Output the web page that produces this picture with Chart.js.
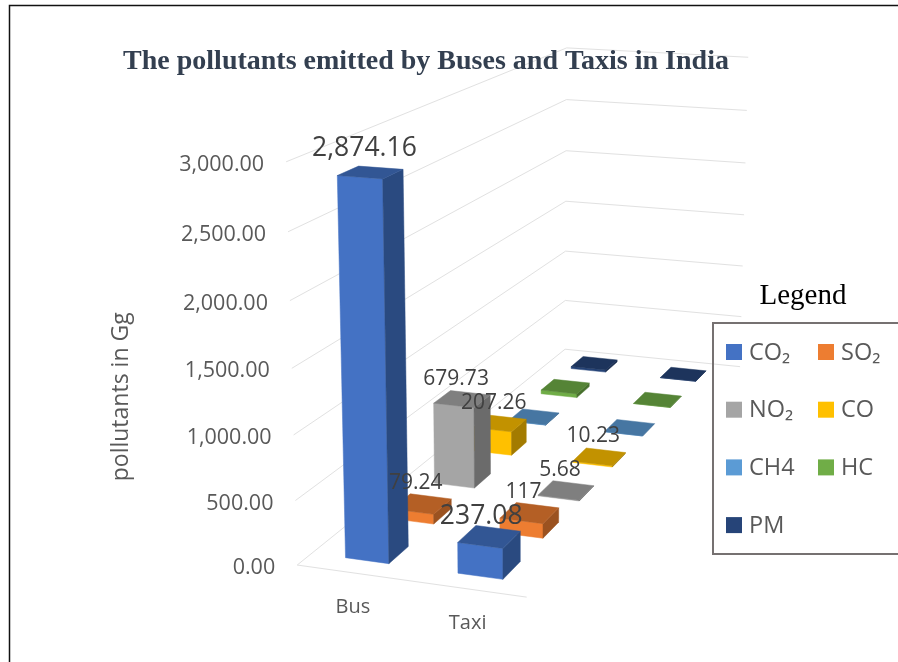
<!DOCTYPE html>
<html>
<head>
<meta charset="utf-8">
<title>The pollutants emitted by Buses and Taxis in India</title>
<script src="https://cdn.jsdelivr.net/npm/chart.js@4"></script>
<style>
    html, body { margin: 0; padding: 0; background: #fff; }
    canvas { display: block; }
</style>
</head>
<body>
<canvas id="pollutants-chart" width="898" height="662"></canvas>
<script>
// Chart data
const categories = ['Bus', 'Taxi'];
const pollutants = ['CO₂', 'SO₂', 'NO₂', 'CO', 'CH4', 'HC', 'PM'];
const co2Values = [2874.16, 237.08];
const so2Values = [79.24, 117];
const no2Values = [679.73, 5.68];
const coValues = [207.26, 10.23];
const ch4Values = [3, 1];
const hcValues = [35, 2];
const pmValues = [20, 1];
const seriesValues = [co2Values, so2Values, no2Values, coValues, ch4Values, hcValues, pmValues];
// only these series carry a value label in the original
const labelledSeries = 4;

// Colours per series: front, top, side
const frontColors = ['#4472C4', '#ED7D31', '#A5A5A5', '#FFC000', '#5B9BD5', '#70AD47', '#264478'];
const topColors = ['#325694', '#B45F25', '#7F7F7F', '#C29200', '#4676A2', '#558436', '#1D345C'];
const sideColors = ['#2A4A80', '#9B5220', '#6B6B6B', '#A37B00', '#3B6488', '#47702D', '#182C4E'];

// Box (u, v, h all 0-1) corners as they sit on the page, used to fit the projection
const anchors = [
    [0, 0, 0, 297, 565], [1, 0, 0, 527, 597], [1, 1, 0, 740, 367], [0, 1, 0, 565, 349],
    [0, 0, 1, 286, 162], [0, 1, 1, 567, 48], [1, 1, 1, 748, 57]
];

// Least squares fit of the 3x4 projection matrix
function fitProjection(points) {
    const n = 11;
    const ata = Array.from({ length: n }, () => new Array(n + 1).fill(0));
    const addRow = (row, rhs) => {
        for (let i = 0; i < n; i++) {
            for (let j = 0; j < n; j++) ata[i][j] += row[i] * row[j];
            ata[i][n] += row[i] * rhs;
        }
    };
    points.forEach(([u, v, h, x, y]) => {
        addRow([u, v, h, 1, 0, 0, 0, 0, -x * u, -x * v, -x * h], x);
        addRow([0, 0, 0, 0, u, v, h, 1, -y * u, -y * v, -y * h], y);
    });
    for (let c = 0; c < n; c++) {
        let p = c;
        for (let r = c + 1; r < n; r++) if (Math.abs(ata[r][c]) > Math.abs(ata[p][c])) p = r;
        [ata[c], ata[p]] = [ata[p], ata[c]];
        for (let r = 0; r < n; r++) {
            if (r === c) continue;
            const f = ata[r][c] / ata[c][c];
            for (let k = c; k <= n; k++) ata[r][k] -= f * ata[c][k];
        }
    }
    return ata.map((row, i) => row[n] / row[i]);
}

const m = fitProjection(anchors);

function project(u, v, h) {
    const w = m[8] * u + m[9] * v + m[10] * h + 1;
    return {
        x: (m[0] * u + m[1] * v + m[2] * h + m[3]) / w,
        y: (m[4] * u + m[5] * v + m[6] * h + m[7]) / w
    };
}

function fillFace(ctx, points, color) {
    ctx.beginPath();
    points.forEach((p, i) => (i ? ctx.lineTo(p.x, p.y) : ctx.moveTo(p.x, p.y)));
    ctx.closePath();
    ctx.fillStyle = color;
    ctx.strokeStyle = color;
    ctx.lineWidth = 0.5;
    ctx.fill();
    ctx.stroke();
}

// Decimal position (0-1) of a value along a scale; y runs upward already
const decimalOf = (scale, value) => scale.getDecimalForPixel(scale.getPixelForValue(value));

const barWidth = 0.195; // share of the floor width
const barDepth = 0.06;  // share of the floor depth
const fontFamily = '"Open Sans", sans-serif';

const chart3d = {
    id: 'chart3d',
    beforeDraw(chart) {
        const ctx = chart.ctx;
        const yScale = chart.scales.y;
        ctx.save();
        ctx.fillStyle = '#fff';
        ctx.fillRect(0, 0, chart.width, chart.height);
        // page frame round the figure
        ctx.strokeStyle = '#111';
        ctx.lineWidth = 1.5;
        ctx.beginPath();
        ctx.moveTo(chart.width, 5.5);
        ctx.lineTo(9.5, 5.5);
        ctx.lineTo(9.5, chart.height);
        ctx.stroke();

        // wall gridlines, here so the title stays on top of them
        ctx.strokeStyle = '#e1e1e1';
        ctx.lineWidth = 1;
        yScale.ticks.forEach((tick) => {
            const h = decimalOf(yScale, tick.value);
            const a = project(0, 0, h), d = project(0, 1, h), c = project(1, 1, h);
            ctx.beginPath();
            ctx.moveTo(a.x, a.y);
            ctx.lineTo(d.x, d.y);
            ctx.lineTo(c.x, c.y);
            ctx.stroke();
        });
        const fl = project(0, 0, 0), fr = project(1, 0, 0);
        ctx.beginPath();
        ctx.moveTo(fl.x, fl.y);
        ctx.lineTo(fr.x, fr.y);
        ctx.stroke();
        ctx.restore();
    },
    beforeDatasetsDraw(chart) {
        const ctx = chart.ctx;
        const { x: xScale, y: yScale, z: zScale } = chart.scales;
        ctx.save();
        // boxes, back series first
        for (let s = chart.data.datasets.length - 1; s >= 0; s--) {
            chart.data.datasets[s].data.forEach((value, c) => {
                const u = decimalOf(xScale, c);
                const v = decimalOf(zScale, s);
                const h = decimalOf(yScale, value);
                const u0 = u - barWidth / 2, u1 = u + barWidth / 2;
                const v0 = v - barDepth / 2, v1 = v + barDepth / 2;
                fillFace(ctx, [project(u0, v0, 0), project(u1, v0, 0), project(u1, v0, h), project(u0, v0, h)], frontColors[s]);
                fillFace(ctx, [project(u1, v0, 0), project(u1, v1, 0), project(u1, v1, h), project(u1, v0, h)], sideColors[s]);
                fillFace(ctx, [project(u0, v0, h), project(u1, v0, h), project(u1, v1, h), project(u0, v1, h)], topColors[s]);
            });
        }
        ctx.restore();
        return false;
    },
    afterDraw(chart) {
        const ctx = chart.ctx;
        const { x: xScale, y: yScale, z: zScale } = chart.scales;
        ctx.save();
        ctx.textBaseline = 'middle';

        // value ticks follow the slanted front edge
        ctx.font = '21.5px ' + fontFamily;
        ctx.fillStyle = '#595959';
        ctx.textAlign = 'right';
        yScale.ticks.forEach((tick) => {
            const p = project(0, 0, decimalOf(yScale, tick.value));
            ctx.fillText(tick.label, p.x - 22, p.y + 3);
        });

        // category labels under the front edge
        ctx.font = '20px ' + fontFamily;
        ctx.textAlign = 'center';
        xScale.getLabels().forEach((label, c) => {
            const p = project(decimalOf(xScale, c), 0, 0);
            ctx.fillText(label, p.x, p.y + 34);
        });

        // value labels
        ctx.fillStyle = '#404040';
        for (let s = 0; s < labelledSeries; s++) {
            chart.data.datasets[s].data.forEach((value, c) => {
                const p = project(decimalOf(xScale, c), decimalOf(zScale, s), decimalOf(yScale, value));
                ctx.font = (s === 0 ? '26.5px ' : '21px ') + fontFamily;
                const dx = s === 0 && c === 1 ? -8 : -6;
                const dy = s === 0 && c === 0 ? -24 : -20.5;
                ctx.fillText(value.toLocaleString('en-US'), p.x + dx, p.y + dy);
            });
        }

        // legend box
        ctx.fillStyle = '#000';
        ctx.font = '29px "Liberation Serif", serif';
        ctx.fillText('Legend', 803, 296);
        ctx.strokeStyle = '#767171';
        ctx.lineWidth = 2;
        ctx.strokeRect(713, 323, 186, 231);
        ctx.textAlign = 'left';
        ctx.font = '23.5px ' + fontFamily;
        chart.data.datasets.forEach((ds, i) => {
            const col = i % 2, row = Math.floor(i / 2);
            const x = 726 + col * 92, y = 352 + row * 57.7;
            ctx.fillStyle = ds.backgroundColor;
            ctx.fillRect(x, y - 8, 16, 16);
            ctx.fillStyle = '#595959';
            ctx.fillText(ds.label, x + 23, y + 1);
        });
        ctx.restore();
    }
};

new Chart(document.getElementById('pollutants-chart'), {
    type: 'bar',
    data: {
        labels: categories,
        datasets: pollutants.map((name, i) => ({
            label: name,
            data: seriesValues[i],
            backgroundColor: frontColors[i],
            xAxisID: 'x',
            yAxisID: 'y',
            grouped: false
        }))
    },
    plugins: [chart3d],
    options: {
        responsive: false,
        animation: false,
        events: [],
        layout: { padding: { left: 104, right: 150, top: 0, bottom: 58 } },
        plugins: {
            legend: { display: false },
            tooltip: { enabled: false },
            title: {
                display: true,
                text: 'The pollutants emitted by Buses and Taxis in India',
                color: '#333F50',
                font: { family: '"Liberation Serif", serif', size: 28, weight: 'bold' },
                padding: { top: 45, bottom: 111 }
            }
        },
        scales: {
            x: { type: 'category', offset: true, display: false },
            z: { type: 'category', axis: 'x', labels: pollutants, offset: true, display: false },
            y: {
                min: 0,
                max: 3000,
                grid: { display: false },
                border: { display: false },
                ticks: {
                    display: false,
                    autoSkip: false,
                    stepSize: 500,
                    callback: (v) => v.toLocaleString('en-US', { minimumFractionDigits: 2 })
                },
                title: {
                    display: true,
                    text: 'pollutants in Gg',
                    color: '#595959',
                    font: { family: fontFamily, size: 23 }
                }
            }
        }
    }
});
</script>
</body>
</html>
